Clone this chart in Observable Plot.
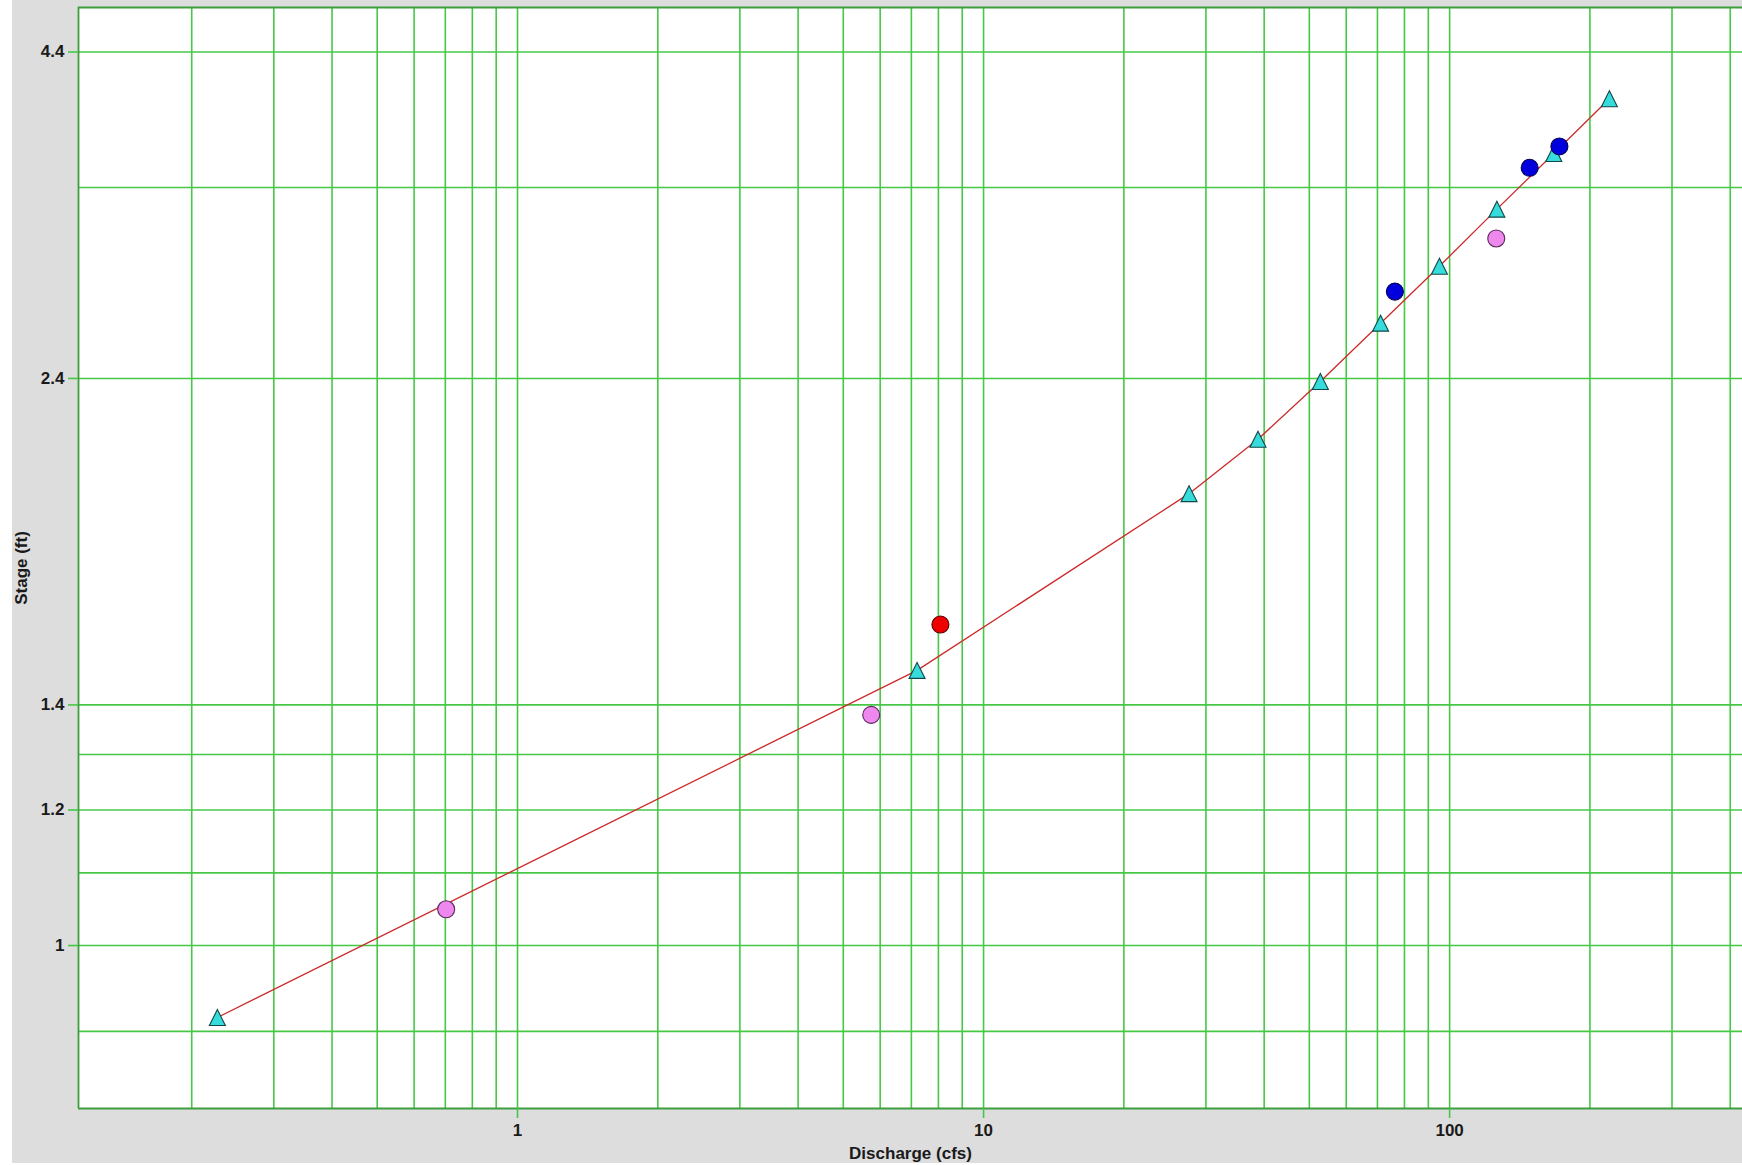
<!DOCTYPE html>
<html>
<head>
<meta charset="utf-8">
<script src="https://cdn.jsdelivr.net/npm/d3@7"></script>
<script src="https://cdn.jsdelivr.net/npm/@observablehq/plot@0.6"></script>
<style>
  html, body { margin: 0; padding: 0; background: #ffffff; }
  body { padding-left: 12px; }
</style>
</head>
<body>
<div id="chart"></div>
<script>
// Gage height of zero flow: the stage axis is logarithmic in (stage - offset)
const STAGE_OFFSET = 0.4;

// Rating-curve points (cyan triangles), joined by the red rating line
const ratingQ     = [0.227, 7.2, 27.6, 38.8, 52.8, 71.1, 95.1, 126.3, 167.3, 220.2];
const ratingStage = [0.915, 1.476, 1.966, 2.158, 2.387, 2.649, 2.938, 3.265, 3.624, 4.022];

// Measurements
const pinkQ      = [0.703, 5.74, 125.9];
const pinkStage  = [1.048, 1.379, 3.092];
const blueQ      = [76.3, 148.5, 172.0];
const blueStage  = [2.805, 3.528, 3.673];
const redQ       = [8.08];
const redStage   = [1.586];

// Axes
const xGrid = [0.2,0.3,0.4,0.5,0.6,0.7,0.8,0.9,1,2,3,4,5,6,7,8,9,10,20,30,40,50,60,70,80,90,100,200,300,400];
const xTicks = [1, 10, 100];
const xDomain = [0.1143, 425];
const yGridStage = [0.9, 1.0, 1.1, 1.2, 1.3, 1.4, 2.4, 3.4, 4.4];
const yTickStage = [1, 1.2, 1.4, 2.4, 4.4];
const yDomainStage = [0.8245, 4.796];
const xLabel = "Discharge (cfs)";
const yLabel = "Stage (ft)";

const sh = s => s - STAGE_OFFSET;
const toRows = (qs, ss) => qs.map((q, i) => ({q, h: sh(ss[i])}));
const rating = toRows(ratingQ, ratingStage);
const pink = toRows(pinkQ, pinkStage);
const blue = toRows(blueQ, blueStage);
const red = toRows(redQ, redStage);

const triangle = {
  draw(context, size) {
    const h = Math.sqrt(size / Math.PI);
    context.moveTo(0, -h);
    context.lineTo(h, h);
    context.lineTo(-h, h);
    context.closePath();
  }
};

const GRID = "#46c846";
const FRAME = "#3c9e3c";
const TEXT = "#1a1a1a";
const xMin = xDomain[0], xMax = xDomain[1];
const yMin = sh(yDomainStage[0]), yMax = sh(yDomainStage[1]);

const chart = Plot.plot({
  width: 1730,
  height: 1163,
  marginLeft: 66,
  marginRight: 0,
  marginTop: 7,
  marginBottom: 55,
  style: {
    background: "#dddddd",
    fontFamily: "'Liberation Sans', Arial, sans-serif",
    fontSize: "17px",
    fontWeight: "bold",
    color: TEXT
  },
  x: {type: "log", domain: [xMin, xMax]},
  y: {type: "log", domain: [yMin, yMax]},
  marks: [
    Plot.frame({fill: "white", stroke: "none"}),
    Plot.ruleX(xGrid, {stroke: GRID, strokeWidth: 1.6}),
    Plot.ruleY(yGridStage.map(sh), {stroke: GRID, strokeWidth: 1.6}),
    Plot.ruleX([xMin], {stroke: FRAME, strokeWidth: 1.8}),
    Plot.ruleY([yMin, yMax], {stroke: FRAME, strokeWidth: 1.8}),
    Plot.axisX(xTicks, {
      tickSize: 10, tickPadding: 5, stroke: GRID, strokeWidth: 1.6, fill: TEXT,
      tickFormat: d => String(d), label: null
    }),
    Plot.axisY(yTickStage.map(sh), {
      tickSize: 10, tickPadding: 4, stroke: GRID, strokeWidth: 1.6, fill: TEXT,
      tickFormat: d => String(+(d + STAGE_OFFSET).toFixed(1)), label: null
    }),
    Plot.text([xLabel], {frameAnchor: "bottom", dy: 50, lineAnchor: "bottom", text: d => d, fill: TEXT}),
    Plot.text([yLabel], {frameAnchor: "left", dx: -57, dy: 10, rotate: -90, textAnchor: "middle", lineAnchor: "middle", text: d => d, fill: TEXT}),
    Plot.line(rating, {x: "q", y: "h", stroke: "#cc2a2a", strokeWidth: 1.3}),
    Plot.dot(rating, {x: "q", y: "h", symbol: triangle, r: 8, fill: "#36dcdc", stroke: "#124848", strokeWidth: 1.1}),
    Plot.dot(pink, {x: "q", y: "h", r: 8.5, fill: "#ee88ee", stroke: "#5a2a5a", strokeWidth: 1.1}),
    Plot.dot(red, {x: "q", y: "h", r: 8.5, fill: "#ee0000", stroke: "#5a0000", strokeWidth: 1.1}),
    Plot.dot(blue, {x: "q", y: "h", r: 8.5, fill: "#0000dd", stroke: "#000055", strokeWidth: 1.1})
  ]
});
document.getElementById("chart").appendChild(chart);
</script>
</body>
</html>
